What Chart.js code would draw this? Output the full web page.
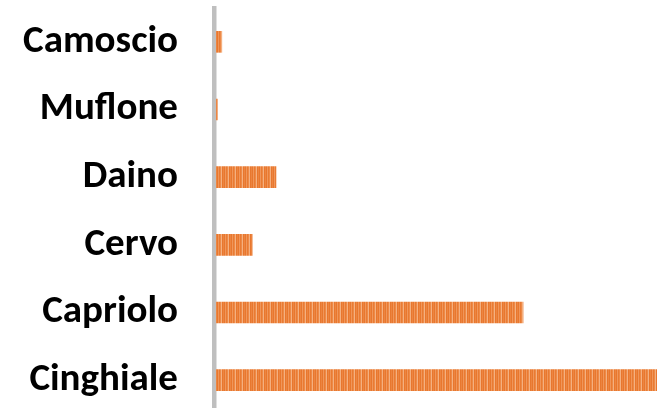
<!DOCTYPE html>
<html>
<head>
<meta charset="utf-8">
<script src="https://cdn.jsdelivr.net/npm/chart.js@4"></script>
<style>
  html, body { margin: 0; padding: 0; background: #fff; overflow: hidden; }
  #wrap { width: 657px; height: 420px; position: relative; }
</style>
</head>
<body>
<div id="wrap"><canvas id="speciesChart"></canvas></div>
<script>
const specie = ['Camoscio', 'Muflone', 'Daino', 'Cervo', 'Capriolo', 'Cinghiale'];
const capi = [135, 35, 1340, 810, 6830, 11200];

// striped orange fill like the original
function stripes() {
    const cols = ['#E8772E', '#F0965A', '#E97B33', '#ED8A48', '#F4B080', '#E8772E', '#EC8541'];
    const c = document.createElement('canvas');
    c.width = cols.length;
    c.height = 4;
    const g = c.getContext('2d');
    cols.forEach((col, i) => {
        g.fillStyle = col;
        g.fillRect(i, 0, 1, 4);
    });
    return g.createPattern(c, 'repeat');
}

const ctx = document.getElementById('speciesChart').getContext('2d');
const chart = new Chart(ctx, {
    type: 'bar',
    data: {
        labels: specie,
        datasets: [{
            data: capi,
            backgroundColor: stripes(),
            borderWidth: 0,
            categoryPercentage: 1,
            barPercentage: 0.32
        }]
    },
    options: {
        indexAxis: 'y',
        responsive: true,
        maintainAspectRatio: false,
        animation: false,
        layout: { padding: { top: 8, bottom: 6, left: 0, right: 0 } },
        plugins: {
            legend: { display: false },
            tooltip: { enabled: false }
        },
        scales: {
            x: {
                display: false,
                min: -45,
                max: 9800
            },
            y: {
                afterFit: function(scale) {
                    scale.width = 214;
                    scale.paddingTop = 0;
                    scale.paddingBottom = 0;
                },
                grid: { display: false, drawTicks: false },
                border: { display: true, color: '#BFBFBF', width: 4.5 },
                ticks: {
                    color: '#000',
                    padding: 36,
                    font: { family: 'Carlito, Lato, sans-serif', size: 39, weight: 'bold' }
                }
            }
        }
    }
});
</script>
</body>
</html>
